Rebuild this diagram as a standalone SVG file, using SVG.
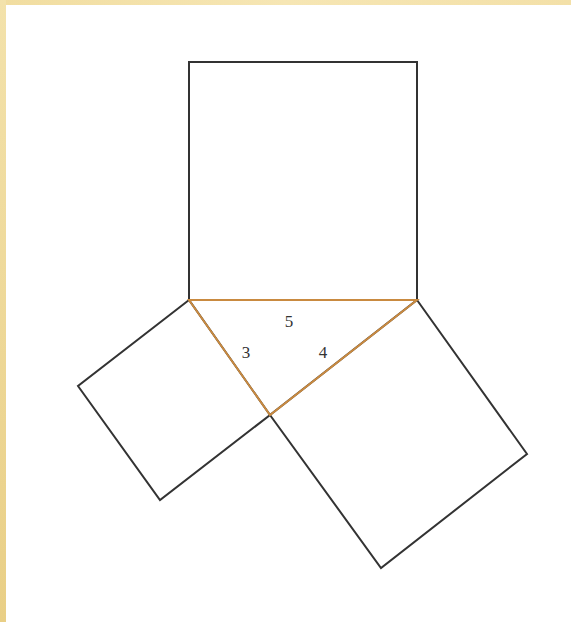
<svg xmlns="http://www.w3.org/2000/svg" width="571" height="622" viewBox="0 0 571 622">
<defs>
<linearGradient id="gTop" x1="0" y1="0" x2="1" y2="0">
<stop offset="0" stop-color="#f1dda0"/><stop offset="0.5" stop-color="#f6e6b4"/><stop offset="1" stop-color="#f3e0a8"/>
</linearGradient>
<linearGradient id="gLeft" x1="0" y1="0" x2="0" y2="1">
<stop offset="0" stop-color="#f3e2ab"/><stop offset="1" stop-color="#e9cf86"/>
</linearGradient>
</defs>
<style>
.sq{fill:none;stroke:#333;stroke-width:2;stroke-linejoin:miter}
.tri{fill:none;stroke:#c98a40;stroke-width:2;stroke-linejoin:miter}
.lbl{font-family:"Liberation Serif",serif;font-size:17px;fill:#333;text-anchor:middle}
</style>
<rect x="0" y="0" width="571" height="622" fill="#fff"/>
<rect x="0" y="0" width="571" height="5" fill="url(#gTop)"/>
<rect x="0" y="0" width="6" height="622" fill="url(#gLeft)"/>
<g id="square-top"><polygon class="sq" points="189,62 417,62 417,300 189,300"/></g>
<g id="square-left"><polygon class="sq" points="189,300 78,386 160,500 270,415"/></g>
<g id="square-right"><polygon class="sq" points="417,300 527,454 381,568 270,415"/></g>
<g id="connectors">
<polygon class="tri" points="189,300 417,300 270,415"/>
</g>
<g id="labels">
<text class="lbl" x="289" y="327">5</text>
<text class="lbl" x="246" y="358">3</text>
<text class="lbl" x="323" y="358">4</text>
</g>
</svg>
